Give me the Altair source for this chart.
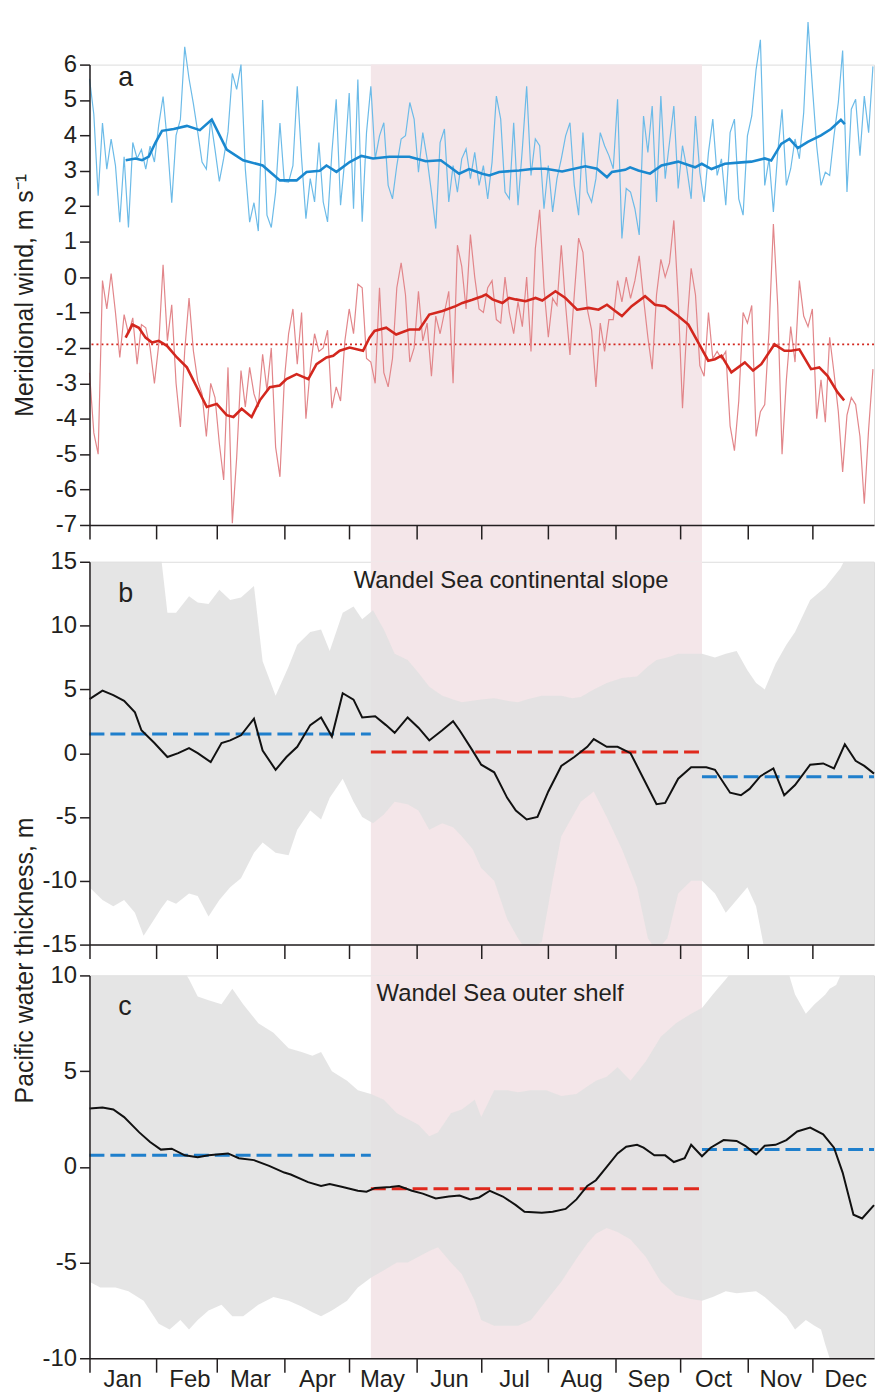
import altair as alt
import pandas as pd

FONT = "Liberation Sans"
INK = "#231f20"
PINK = "#f4e6e9"
GRAY = "#e1e1e1"
BLUE_THIN = "#6cbbe8"
BLUE_THICK = "#1a88cf"
RED_THIN = "#e2868a"
RED_THICK = "#d3271e"
DASH_BLUE = "#1f7fcc"
DASH_RED = "#e0291d"

W = 789
H_A, H_B, H_C = 463, 385, 385
GAP_AB, GAP_BC = 37, 31
X_MAX = 362.5

MONTH_START = [0, 31, 59, 90, 120, 151, 181, 212, 243, 273, 304, 334]
SUMMER_START, SUMMER_END = 130, 283

# ---------------- panel a: meridional wind ----------------
wind_days = list(range(0, 364, 2))
wind_blue = [
    5.6, 4.6, 2.3, 4.35, 3.05, 3.9, 3.15, 1.55, 3.4, 1.4, 3.8, 3.35, 3.6, 3.05, 3.7, 3.25,
    4.3, 5.1, 3.8, 2.1, 4.0, 4.45, 6.5, 5.6, 4.9, 4.1, 3.25, 3.05, 4.45, 3.6, 2.7, 3.35,
    4.1, 5.75, 5.3, 6.0, 3.05, 1.55, 2.1, 1.3, 5.0, 1.75, 1.4, 2.4, 4.35, 2.7,
    2.68, 3.15, 5.39, 3.34, 1.65, 2.78, 2.12, 3.8, 2.12, 1.56, 3.52, 5.02, 2.03, 3.34, 5.2, 1.93,
    5.58, 1.56, 4.08, 5.39, 3.34, 3.99, 4.36, 2.59, 2.21, 3.15, 3.9, 3.99, 4.93, 4.46, 2.96, 4.08,
    3.34, 2.4, 1.37, 3.8, 4.18, 2.12, 3.15, 2.4, 3.34, 3.62, 2.78, 3.52, 2.59,
    3.15, 2.21, 3.24, 5.11, 4.46, 2.4, 2.21, 4.36, 2.03, 3.62, 5.39, 2.87, 3.9, 3.71, 1.93, 3.15,
    1.84, 2.78, 3.34, 3.99, 4.36, 2.59, 1.75, 4.08, 2.4, 2.12, 2.78, 4.08, 3.71, 3.43, 3.06, 5.02,
    1.09, 2.5, 2.4, 1.93, 1.19, 4.55, 3.52, 4.83, 2.12, 5.11, 2.78, 3.8, 4.83, 2.5,
    3.71, 3.06, 2.21, 4.55, 2.96, 2.12, 3.52, 4.46, 2.87, 3.34, 2.03, 4.08, 4.46, 2.21, 1.75, 3.99,
    4.55, 5.86, 6.7, 2.59, 3.34, 1.84, 3.52, 4.74, 2.59, 3.06, 3.9, 3.34, 4.64, 7.2, 5.39, 3.71,
    2.59, 2.96, 2.87, 3.99, 4.93, 6.4, 2.4, 4.74, 5.02, 3.43, 5.11, 4.08, 5.95,
]
wind_red = [
    -2.7, -4.4, -5.0, -0.1, -0.9, 0.1, -1.0, -2.27, -1.06, -1.6, -1.15, -2.46, -1.34, -1.43, -2.0, -3.0,
    -1.9, 0.35, -1.8, -0.78, -3.0, -4.23, -2.08, -0.59, -2.08, -2.93, -3.3, -4.5, -3.0, -3.4, -4.7, -5.73,
    -2.55, -6.95, -5.1, -2.64, -3.67, -2.55, -3.3, -3.67, -2.18, -3.2, -2.0, -4.8, -5.64, -2.93,
    -1.6, -0.9, -2.46, -1.0, -4.0, -2.6, -1.6, -2.1, -2.0, -1.5, -3.7, -3.1, -3.5, -1.8, -0.9, -1.6,
    -0.2, -0.3, -2.3, -2.4, -3.0, -0.3, -2.7, -3.1, -2.3, -0.3, 0.4, -0.5, -2.4, -2.0, -0.4, -1.8,
    -1.3, -2.8, -1.1, -1.6, -1.0, -0.4, -3.0, 0.9, 0.3, -0.9, 1.2, 0.0, -0.9,
    -1.0, -0.3, -0.1, -1.2, -1.3, 0.0, -1.0, -1.6, -0.7, -1.4, 0.0, -2.1, 0.8, 1.9, -0.3, -1.7,
    -0.6, -0.8, 0.9, -0.8, -2.2, -0.5, 1.1, 0.7, -0.9, -1.5, -3.1, -1.3, -2.1, -1.2, -1.2, -0.1,
    -0.7, 0.0, -0.6, -0.1, 0.6, -0.6, -1.7, -2.6, -0.5, 0.5, 0.0, 0.4, 1.6, -0.6,
    -3.7, -1.4, 0.25, -0.5, -2.5, -2.8, -1.0, -2.3, -2.1, -2.3, -2.1, -4.2, -4.9, -3.5, -1.0, -1.3,
    -0.8, -4.5, -3.8, -3.6, -1.5, 1.5, -0.8, -5.0, -2.9, -1.4, -2.4, -0.1, -1.1, -1.4, -0.9, -4.0,
    -2.9, -4.1, -1.7, -2.7, -3.8, -5.5, -3.9, -3.4, -3.6, -4.5, -6.4, -4.3, -2.6,
]

blue_mean_days = [16.7, 21.3, 24.3, 27.4, 30.5, 33.5, 38.9, 45, 51, 56.5, 63.4, 71, 80, 88, 95.7, 100.3,
                  106.4, 109.5, 114.1, 120.2, 125.6, 131, 138.6, 147.8, 155.4, 162.3, 170.8, 175.4, 181.5,
                  184.7, 189.3, 198.5, 205.4, 210.7, 218.4, 229.1, 234.5, 239.1, 241.4, 247.5, 249.8, 253.6,
                  259, 264.3, 272, 279.8, 282.9, 287.4, 293.6, 301.2, 305.8, 312, 315, 319.6, 323.4, 327.3,
                  331.9, 338, 342.6, 347.2, 349]
blue_mean = [3.3, 3.35, 3.3, 3.4, 3.8, 4.13, 4.18, 4.27, 4.15, 4.45, 3.6, 3.3, 3.15, 2.73, 2.73, 2.97,
             3.0, 3.15, 2.97, 3.25, 3.42, 3.35, 3.4, 3.4, 3.27, 3.3, 2.92, 3.05, 2.92,
             2.87, 2.97, 3.01, 3.06, 3.06, 2.98, 3.13, 3.06, 2.82, 2.97, 3.03, 3.1, 3.01,
             2.92, 3.15, 3.26, 3.1, 3.2, 3.05, 3.2, 3.24, 3.26, 3.35, 3.29, 3.76, 3.9, 3.64,
             3.82, 4.0, 4.18, 4.44, 4.32]

red_mean_days = [16.7, 19.8, 22.8, 25.9, 28.9, 32, 35.8, 40.4, 45, 49.6, 54.2, 58.8, 63.4, 66.5, 70.3, 74.9,
                 78.7, 83.3, 87.9, 91, 95.7, 101.1, 104.9, 109.5, 112.6, 115.6, 120.2, 126.4, 129.4, 131.7,
                 137.1, 141.7, 147.8, 152.4, 157, 163.1, 169.2, 172.3, 176.9, 181.5, 183.2, 186.2, 190.8,
                 193.9, 196.9, 201.5, 206.1, 209.2, 215.3, 219.9, 225.3, 230.6, 235.2, 239.1, 242.9, 246,
                 250.5, 256.7, 261.3, 265.9, 272, 276.7, 281.3, 285.9, 289, 292, 296.6, 302.8, 306.6, 310.4,
                 316.5, 321.1, 324.2, 328, 333.4, 337.2, 341, 345.6, 348.7]
red_mean = [-1.71, -1.34, -1.43, -1.71, -1.85, -1.8, -1.94, -2.27, -2.55, -3.11, -3.67, -3.58, -3.9, -3.95,
            -3.72, -3.95, -3.48, -3.11, -3.06, -2.88, -2.74, -2.88, -2.46, -2.27, -2.22, -2.08, -1.99, -2.08,
            -1.71, -1.52, -1.43, -1.62, -1.48, -1.48, -1.06, -0.96, -0.82, -0.73, -0.64, -0.54, -0.49, -0.63,
            -0.73, -0.59, -0.63, -0.68, -0.59, -0.66, -0.4, -0.59, -0.92, -0.87, -0.92, -0.78, -0.96, -1.1,
            -0.82, -0.54, -0.78, -0.82, -1.1, -1.34, -1.85, -2.36, -2.32, -2.22, -2.69, -2.41, -2.64, -2.46,
            -1.9, -2.08, -2.08, -2.04, -2.6, -2.55, -2.79, -3.25, -3.48]
red_annual_mean = -1.9

# ---------------- panel b: continental slope ----------------
slope_days = [0, 6, 11, 16, 21, 24, 30, 36, 41, 46, 50, 56, 61, 65, 70, 76, 80, 86, 91, 96, 102, 107, 112,
              117, 122, 126, 132, 137, 141, 147, 152, 157, 163, 168, 171, 177, 181, 187, 193, 197, 202, 207,
              212, 218, 224, 230, 233, 239, 244, 250, 256, 262, 266, 272, 278, 285, 289, 296, 301, 305, 310,
              316, 321, 326, 333, 339, 344, 349, 354, 358, 362.5]
slope_pw = [4.24, 4.9, 4.55, 4.1, 3.2, 1.8, 0.8, -0.3, 0.0, 0.4, 0.0, -0.7, 0.8, 1.0, 1.4, 2.7, 0.2, -1.3,
            -0.3, 0.5, 2.2, 2.8, 1.3, 4.7, 4.2, 2.8, 2.9, 2.2, 1.6, 2.8, 2.0, 1.0, 1.8, 2.5, 1.8, 0.2, -0.9,
            -1.5, -3.5, -4.5, -5.2, -5.0, -3.0, -1.0, -0.3, 0.5, 1.1, 0.5, 0.5, 0.0, -2.0, -4.0, -3.9, -2.0,
            -1.1, -1.1, -1.3, -3.1, -3.3, -2.8, -1.8, -1.2, -3.3, -2.5, -0.9, -0.8, -1.2, 0.7, -0.6, -1.0, -1.6]

slope_band_days = [0, 6, 11, 16, 21, 25, 30, 33, 36, 40, 46, 50, 55, 60, 65, 70, 76, 80, 86, 92, 96, 102,
                   107, 111, 117, 122, 126, 131, 136, 141, 147, 152, 157, 163, 168, 172, 177, 181, 187, 193,
                   198, 202, 209, 214, 218, 223, 227, 233, 239, 246, 253, 258, 262, 267, 272, 278, 283, 289,
                   294, 299, 304, 308, 312, 317, 322, 326, 333, 340, 347, 350, 356, 362.5]
slope_hi = [15.5, 15.5, 15.5, 15.5, 15.5, 15.5, 15.5, 15.5, 11.0, 11.0, 12.3, 11.8, 11.7, 12.8, 12.0, 12.2,
            13.1, 7.2, 4.5, 6.8, 8.5, 9.5, 9.7, 8.0, 11.0, 11.5, 10.5, 11.2, 9.7, 7.8, 7.3, 6.3, 5.2, 4.5,
            4.2, 4.0, 4.1, 4.2, 4.3, 4.1, 4.0, 4.2, 4.5, 4.5, 4.5, 4.3, 4.4, 5.0, 5.5, 5.9, 6.0, 6.8, 7.3,
            7.5, 7.8, 7.8, 7.8, 7.5, 7.8, 8.0, 6.5, 5.5, 5.0, 7.0, 8.5, 9.5, 12.0, 13.0, 14.5, 15.5, 15.5, 15.5]
slope_lo = [-10.5, -11.5, -12.0, -11.5, -12.5, -14.3, -13.0, -12.2, -11.5, -11.8, -11.0, -11.2, -12.8, -11.5,
            -10.5, -9.8, -7.8, -7.0, -7.8, -8.0, -6.0, -4.5, -5.2, -3.5, -2.0, -3.8, -5.0, -5.5, -4.8, -3.8,
            -4.0, -4.5, -6.0, -5.5, -5.8, -6.5, -7.5, -9.0, -10.0, -13.0, -14.5, -15.5, -14.8, -10.0, -6.5,
            -5.0, -3.8, -3.0, -5.0, -7.5, -10.5, -14.5, -15.5, -14.5, -11.0, -10.0, -10.0, -11.0, -12.5, -11.5,
            -10.5, -12.0, -15.5, -15.5, -15.5, -15.5, -15.5, -15.5, -15.5, -15.5, -15.5, -15.5]
slope_season_mean = [1.5, 0.1, -1.85]

# ---------------- panel c: outer shelf ----------------
shelf_days = [0, 6, 11, 16, 23, 28, 33, 38, 44, 50, 55, 64, 69, 76, 83, 90, 93, 101, 107, 111, 117, 124,
              128, 132, 139, 143, 149, 154, 160, 166, 171, 176, 180, 185, 191, 197, 201, 209, 214, 220, 225,
              230, 234, 239, 244, 248, 253, 256, 261, 266, 270, 275, 278, 283, 287, 293, 299, 303, 308, 312,
              317, 322, 327, 333, 339, 344, 348, 353, 357, 362.5]
shelf_pw = [3.05, 3.1, 3.0, 2.6, 1.8, 1.3, 0.9, 0.95, 0.6, 0.5, 0.6, 0.7, 0.45, 0.35, 0.05, -0.3, -0.4, -0.8,
            -1.0, -0.9, -1.05, -1.25, -1.3, -1.1, -1.05, -1.0, -1.25, -1.4, -1.65, -1.55, -1.5, -1.7, -1.6,
            -1.25, -1.55, -2.0, -2.35, -2.4, -2.35, -2.2, -1.7, -1.0, -0.7, 0.0, 0.7, 1.05, 1.15, 1.0, 0.6,
            0.6, 0.25, 0.45, 1.15, 0.55, 1.0, 1.4, 1.35, 1.1, 0.65, 1.1, 1.15, 1.4, 1.85, 2.05, 1.7, 1.0,
            -0.3, -2.5, -2.7, -2.0]

shelf_band_days = [0, 5, 12, 18, 25, 32, 37, 42, 46, 50, 55, 61, 66, 71, 78, 85, 92, 98, 103, 107, 112, 119,
                   124, 130, 136, 142, 147, 152, 157, 161, 167, 172, 178, 181, 187, 193, 198, 204, 211, 218,
                   225, 230, 234, 239, 244, 250, 257, 264, 271, 278, 283, 288, 294, 299, 308, 312, 319, 322,
                   326, 331, 335, 338, 340, 342, 345, 349, 356, 362.5]
shelf_hi = [10.5, 10.5, 10.5, 10.5, 10.5, 10.5, 10.5, 10.5, 9.8, 8.9, 8.7, 8.5, 9.3, 8.5, 7.5, 7.0, 6.2, 6.0,
            5.8, 6.0, 5.0, 4.5, 4.0, 3.8, 3.5, 2.8, 2.5, 2.2, 1.6, 1.8, 2.8, 3.0, 3.5, 2.6, 4.0, 4.0, 3.9,
            4.0, 4.0, 3.7, 3.8, 4.2, 4.5, 4.7, 5.2, 4.5, 5.5, 6.8, 7.5, 8.0, 8.3, 9.0, 9.8, 10.5, 10.5, 10.5,
            10.5, 10.5, 9.0, 8.0, 8.5, 8.8, 9.0, 9.3, 9.5, 10.5, 10.5, 10.5]
shelf_lo = [-6.0, -6.3, -6.3, -6.5, -7.0, -8.2, -8.5, -8.0, -8.5, -8.0, -7.5, -7.2, -7.8, -7.8, -7.2, -6.8,
            -7.0, -7.3, -7.6, -7.8, -7.5, -7.0, -6.3, -5.8, -5.4, -5.0, -5.0, -4.7, -4.4, -4.2, -5.0, -5.6,
            -7.0, -8.0, -8.3, -8.3, -8.3, -8.0, -7.0, -6.0, -4.8, -4.0, -3.5, -3.2, -3.4, -3.8, -4.7, -6.0,
            -6.7, -6.9, -7.0, -6.8, -6.5, -6.6, -6.5, -6.8, -7.5, -7.8, -8.5, -8.0, -8.3, -8.5, -9.3, -10.0,
            -11.0, -11.0, -11.0, -11.0]
shelf_season_mean = [0.6, -1.15, 0.9]

SEASON_START = [0, SUMMER_START, SUMMER_END]
SEASON_END = [SUMMER_START, SUMMER_END, X_MAX]
SEASON_COLOR = [DASH_BLUE, DASH_RED, DASH_BLUE]

# ---------------- helpers ----------------
x_scale = alt.Scale(domain=[0, X_MAX], nice=False, zero=False)

axis_common = dict(grid=False, domainColor=INK, tickColor=INK, domainWidth=1.5, tickWidth=1.5,
                   zindex=1, labelFont=FONT, labelColor=INK, labelFontSize=24, titleFont=FONT,
                   titleColor=INK, titleFontSize=25, titleFontWeight="normal")

x_axis_plain = alt.Axis(values=MONTH_START, labels=False, tickSize=14, title=None, **axis_common)
month_expr = "monthAbbrevFormat(indexof(" + str(MONTH_START) + ", datum.value))"
x_axis_months = alt.Axis(values=MONTH_START, labelExpr=month_expr, labelOffset=33, labelPadding=-5,
                         labelFlush=False, labelOverlap=False, tickSize=14, title=None, **axis_common)


def y_axis(values, title=None, title_y=0):
    kw = dict(values=values, tickSize=10, labelPadding=3, labelExpr="'' + datum.value", **axis_common)
    if title:
        kw.update(title=title, titleX=-65, titleY=title_y, titleAngle=270,
                  titleAlign="center", titleBaseline="middle")
    else:
        kw.update(title=None)
    return alt.Axis(**kw)


def summer_band(height):
    df = pd.DataFrame({"start": [SUMMER_START], "end": [SUMMER_END]})
    return alt.Chart(df).mark_rect(color=PINK).encode(
        x=alt.X("start:Q", scale=x_scale), x2="end:Q",
        y=alt.value(0), y2=alt.value(height))


def label(text, x, y, size, align="left"):
    return alt.Chart(pd.DataFrame({"t": [text]})).mark_text(
        font=FONT, fontSize=size, color=INK, align=align, baseline="alphabetic"
    ).encode(text="t:N", x=alt.value(x), y=alt.value(y))


# ---------------- panel a ----------------
ya_scale = alt.Scale(domain=[-7, 6], nice=False, zero=False)
ya_axis = y_axis(list(range(-7, 7)), "Meridional wind, m s⁻¹", H_A / 2)
xa = alt.X("day:Q", scale=x_scale, axis=x_axis_plain)
ya = alt.Y("v:Q", scale=ya_scale, axis=ya_axis)

df_blue = pd.DataFrame({"day": wind_days, "v": wind_blue})
df_red = pd.DataFrame({"day": wind_days, "v": wind_red})
df_blue_m = pd.DataFrame({"day": blue_mean_days, "v": blue_mean})
df_red_m = pd.DataFrame({"day": red_mean_days, "v": red_mean})

panel_a = alt.layer(
    summer_band(H_A + GAP_AB),
    alt.Chart(pd.DataFrame({"v": [red_annual_mean]})).mark_rule(
        color=RED_THICK, strokeWidth=1.6, strokeDash=[2, 3]).encode(y=ya),
    alt.Chart(df_blue).mark_line(color=BLUE_THIN, strokeWidth=1.2).encode(x=xa, y=ya),
    alt.Chart(df_red).mark_line(color=RED_THIN, strokeWidth=1.2).encode(x=xa, y=ya),
    alt.Chart(df_blue_m).mark_line(color=BLUE_THICK, strokeWidth=2.6).encode(x=xa, y=ya),
    alt.Chart(df_red_m).mark_line(color=RED_THICK, strokeWidth=2.6).encode(x=xa, y=ya),
    label("a", 29, 22, 27),
).properties(width=W, height=H_A)


def thickness_panel(height, y_dom, y_vals, days, pw, band_days, hi, lo, means, x_axis,
                    letter, title, title_x, band_ext, axis_title=None, axis_title_y=0):
    ys = alt.Scale(domain=y_dom, nice=False, zero=False)
    yax = y_axis(y_vals, axis_title, axis_title_y)
    xe = alt.X("day:Q", scale=x_scale, axis=x_axis)
    df_band = pd.DataFrame({"day": band_days, "hi": hi, "lo": lo})
    df_line = pd.DataFrame({"day": days, "v": pw})
    df_mean = pd.DataFrame({"start": SEASON_START, "end": SEASON_END, "v": means, "c": SEASON_COLOR})
    return alt.layer(
        summer_band(band_ext),
        alt.Chart(df_band).mark_area(color=GRAY, opacity=0.88, clip=True).encode(
            x=xe, y=alt.Y("hi:Q", scale=ys, axis=yax), y2="lo:Q"),
        alt.Chart(df_mean).mark_rule(strokeWidth=3, strokeDash=[15, 6]).encode(
            x=alt.X("start:Q", scale=x_scale, axis=x_axis), x2="end:Q",
            y=alt.Y("v:Q", scale=ys, axis=yax), color=alt.Color("c:N", scale=None)),
        alt.Chart(df_line).mark_line(color="#111111", strokeWidth=2).encode(
            x=xe, y=alt.Y("v:Q", scale=ys, axis=yax)),
        label(letter, 29, 40, 27),
        label(title, title_x, 26, 24, align="center"),
    ).properties(width=W, height=height)


panel_b = thickness_panel(H_B, [-15, 15], list(range(-15, 16, 5)), slope_days, slope_pw,
                          slope_band_days, slope_hi, slope_lo, slope_season_mean, x_axis_plain,
                          "b", "Wandel Sea continental slope", 424, H_B + GAP_BC,
                          "Pacific water thickness, m", H_B + GAP_BC / 2)
panel_c = thickness_panel(H_C, [-10, 10], list(range(-10, 11, 5)), shelf_days, shelf_pw,
                          shelf_band_days, shelf_hi, shelf_lo, shelf_season_mean, x_axis_months,
                          "c", "Wandel Sea outer shelf", 413, H_C)

lower = alt.vconcat(panel_b, panel_c, spacing=GAP_BC, bounds="flush")
chart = alt.vconcat(panel_a, lower, spacing=GAP_AB, bounds="flush").properties(
    padding={"left": 12, "top": 15, "right": 0, "bottom": 0}
).configure_view(stroke=None).configure(font=FONT)

chart.save("out.html", embed_options={"renderer": "svg", "actions": False})
